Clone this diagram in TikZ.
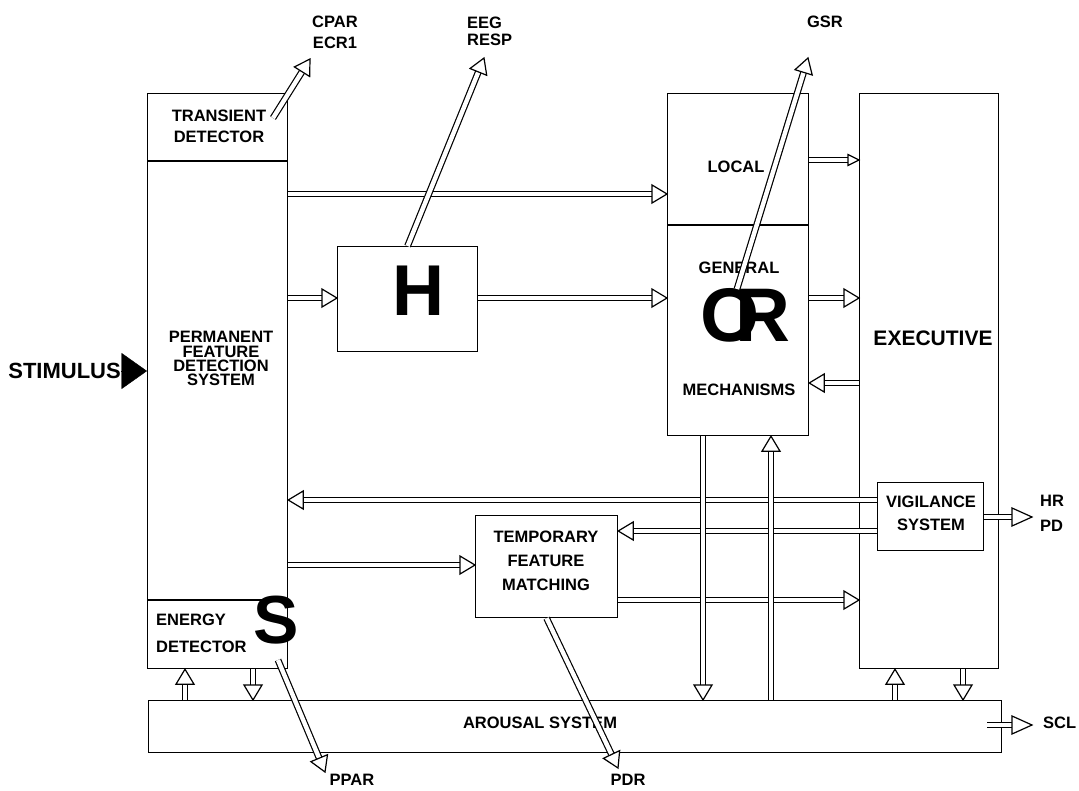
\documentclass[tikz,border=0pt]{standalone}
\usepackage{fontspec}
\setmainfont{Liberation Sans}
\usetikzlibrary{calc,arrows.meta}
\newcommand\lf[1]{\fontsize{16.5}{#1}\selectfont\bfseries}
% double-line arrow with open triangular head: #1 head length, #2 half width, #3 start, #4 end
\newcommand\darrow[4]{%
  \coordinate (hb) at ($#4!#1pt!#3$);
  \draw[shaft] #3 -- (hb);
  \draw[head] #4 -- ($(hb)!#2pt!90:#4$) -- ($(hb)!#2pt!-90:#4$) -- cycle;}
\newcommand\dar[2]{\darrow{15}{9}{#1}{#2}}
\begin{document}
\begin{tikzpicture}[x=1pt,y=-1pt,
  shaft/.style={double, double distance=4.4pt, line width=1.2pt},
  head/.style={line width=1.2pt, fill=white, line join=miter},
  box/.style={draw, line width=1.2pt, inner sep=0pt, anchor=north west},
  lbl/.style={inner sep=0pt, align=center, font=\lf{20}},
  big/.style={inner sep=0pt, font=\fontsize{#1}{#1}\selectfont\bfseries}]
\useasboundingbox (0,0) rectangle (1079,790);

% boxes
\node[box, minimum width=140, minimum height=575] (pfds) at (147,93) {};
\node[box, minimum width=140, minimum height=105] (h) at (337,246) {};
\node[box, minimum width=141, minimum height=342] (orm) at (667,93) {};
\node[box, minimum width=139, minimum height=575] (exec) at (859,93) {};
\node[box, minimum width=106, minimum height=68] (vig) at (877,482) {};
\node[box, minimum width=142, minimum height=102] (tfm) at (475,515) {};
\node[box, minimum width=853, minimum height=52] (aro) at (148,700) {};

% dividers
\draw[line width=1.2pt] (pfds.west |- 0,161) -- (pfds.east |- 0,161);
\draw[line width=1.2pt] (pfds.west |- 0,600) -- (pfds.east |- 0,600);
\draw[line width=1.2pt] (orm.west |- 0,225) -- (orm.east |- 0,225);

% labels
\node[lbl, font=\lf{21}] (td) at (219,126) {TRANSIENT\\DETECTOR};
\node[lbl, font=\lf{14.2}] (pfdsl) at (221,358.5) {PERMANENT\\FEATURE\\DETECTION\\SYSTEM};
\node[lbl, font=\lf{27}, align=left, anchor=west] (ed) at (156,633.5) {ENERGY\\DETECTOR};
\node[big=68] (sl) at (276,620) {S};
\node[big=72] (hl) at (418,291) {H};
\node[big=76] (orl) at (745,315) {O\kern-24pt R};
\node[lbl] (local) at (736,167) {LOCAL};
\node[lbl] (gen) at (739,268) {GENERAL};
\node[lbl] (mech) at (739,390) {MECHANISMS};
\node[big=21] (execl) at (933,338) {EXECUTIVE};
\node[lbl, font=\lf{23}] (vigl) at (931,513.5) {VIGILANCE\\SYSTEM};
\node[lbl, font=\lf{24}] (tfml) at (546,561) {TEMPORARY\\FEATURE\\MATCHING};
\node[lbl] (arol) at (540,723) {AROUSAL SYSTEM};
\node[big=22, anchor=east] (stim) at (121,371) {STIMULUS};
\node[lbl, font=\lf{21}] (cpar) at (335,32) {CPAR\\ECR1};
\node[lbl, font=\lf{17}, align=left, anchor=west] (eeg) at (467,31) {EEG\\RESP};
\node[lbl] (gsr) at (825,22) {GSR};
\node[lbl, font=\lf{25}, align=left, anchor=west] (hrpd) at (1040,513.5) {HR\\PD};
\node[lbl, anchor=west] (scl) at (1043,723) {SCL};
\node[lbl] (ppar) at (352,780) {PPAR};
\node[lbl] (pdr) at (628,780) {PDR};

% free ends
\coordinate (cparS) at (273,118);
\coordinate (cparT) at (310,59);
\coordinate (eegT) at (484,58);
\coordinate (gsrS) at (737,289);
\coordinate (gsrT) at (808,58);
\coordinate (pparS) at (278,660);
\coordinate (pparT) at (325,772);
\coordinate (pdrT) at (618,768);
\coordinate (hrT) at (1032,517);
\coordinate (sclS) at (987,725);
\coordinate (sclT) at (1032,725);

% stimulus
\draw[line width=0.4pt, -{Triangle[length=25.5pt,width=36pt]}] (stim.east) -- (pfds.west |- stim.east);

% connectors
\dar{(cparS)}{(cparT)}
\dar{(pfds.east |- 0,194)}{(orm.west |- 0,194)}
\dar{(pfds.east |- 0,298)}{(h.west |- 0,298)}
\dar{(h.east |- 0,298)}{(orm.west |- 0,298)}
\dar{(h.north)}{(eegT)}
\darrow{11}{5.5}{(orm.east |- 0,160)}{(exec.west |- 0,160)}
\dar{(orm.east |- 0,298)}{(exec.west |- 0,298)}
\dar{(exec.west |- 0,383)}{(orm.east |- 0,383)}
\dar{(gsrS)}{(gsrT)}
\dar{(vig.west |- 0,500)}{(pfds.east |- 0,500)}
\dar{(vig.west |- 0,531)}{(tfm.east |- 0,531)}
\dar{(pfds.east |- 0,565)}{(tfm.west |- 0,565)}
\dar{(tfm.east |- 0,600)}{(exec.west |- 0,600)}
\dar{(orm.south -| 703,0)}{(aro.north -| 703,0)}
\dar{(aro.north -| 771,0)}{(orm.south -| 771,0)}
\dar{(aro.north -| 185,0)}{(pfds.south -| 185,0)}
\dar{(pfds.south -| 253,0)}{(aro.north -| 253,0)}
\dar{(aro.north -| 895,0)}{(exec.south -| 895,0)}
\dar{(exec.south -| 963,0)}{(aro.north -| 963,0)}
\dar{(pparS)}{(pparT)}
\dar{(tfm.south)}{(pdrT)}
\darrow{20}{9}{(vig.east |- 0,517)}{(hrT)}
\darrow{20}{9}{(sclS)}{(sclT)}
\end{tikzpicture}
\end{document}
